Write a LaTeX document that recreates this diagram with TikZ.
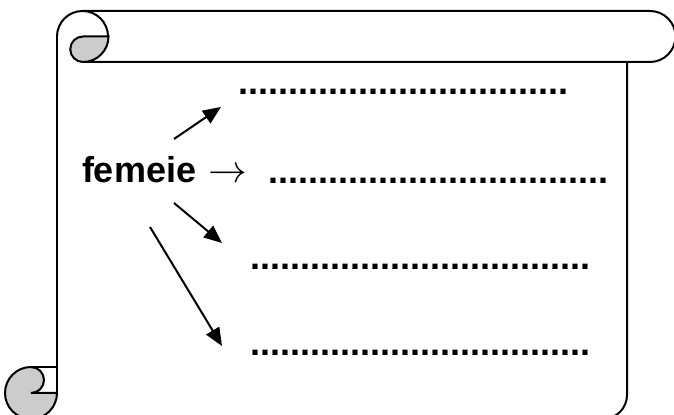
\documentclass[tikz,border=0pt]{standalone}
\usepackage{fontspec}
\setmainfont{Liberation Sans}
\usetikzlibrary{arrows.meta}

\begin{document}
\begin{tikzpicture}[
    x=0.5pt, y=0.5pt,
    line width=1pt,
    font=\fontsize{18}{21}\selectfont\bfseries,
    >={Triangle[length=9pt, width=7.5pt]},
    word/.style={inner sep=0pt, anchor=base west},
    blank/.style={inner sep=0pt, anchor=base west},
    arr/.style={->, line width=1pt},
    curl/.style={fill=black!20, line width=1pt}
]
\useasboundingbox (0,0) rectangle (674,415);
\clip (0,0) rectangle (674,415);

% Top band
\draw (83,404) -- (650,404) arc[start angle=90, end angle=-90, radius=25.5] -- (83,353);

% Top-left curl
\draw[fill=white] (57,378.5) arc[start angle=180, end angle=-90, radius=25.5];
\draw[curl] (83,378.5) -- (108.5,378.5) arc[start angle=0, end angle=-90, radius=25.5]
    arc[start angle=-90, end angle=-270, radius=12.75] -- cycle;

% Bottom-left curl
\draw[curl] (31,22) circle[radius=26];
\fill[white] (31,48) -- (57,48) -- (57,22) -- (31,22) arc[start angle=-90, end angle=90, radius=13] -- cycle;
\draw (31,48) -- (57,48);
\draw (57,22) -- (31,22) arc[start angle=-90, end angle=90, radius=13];

% Scroll body
\draw (57,378.5) -- (57,22);
\draw (627,353) -- (627,20) arc[start angle=0, end angle=-90, radius=24] -- (31,-4);

% Word and blanks
\node[word] (femeie) at (81,232) {femeie \hspace{1pt}\scalebox{1.12}{$\rightarrow$}};
\node[blank] (blank1) at (237,320) {.................................};
\node[blank] (blank2) at (267,231) {..................................};
\node[blank] (blank3) at (249,145) {..................................};
\node[blank] (blank4) at (249,59) {..................................};

% Arrows
\coordinate (tail1) at (174,276);
\coordinate (tip1) at (221,308);
\coordinate (tail3) at (174,212);
\coordinate (tip3) at (222,172);
\coordinate (tail4) at (150,188);
\coordinate (tip4) at (222,69);
\draw[arr] (tail1) -- (tip1);
\draw[arr] (tail3) -- (tip3);
\draw[arr] (tail4) -- (tip4);

\end{tikzpicture}
\end{document}
